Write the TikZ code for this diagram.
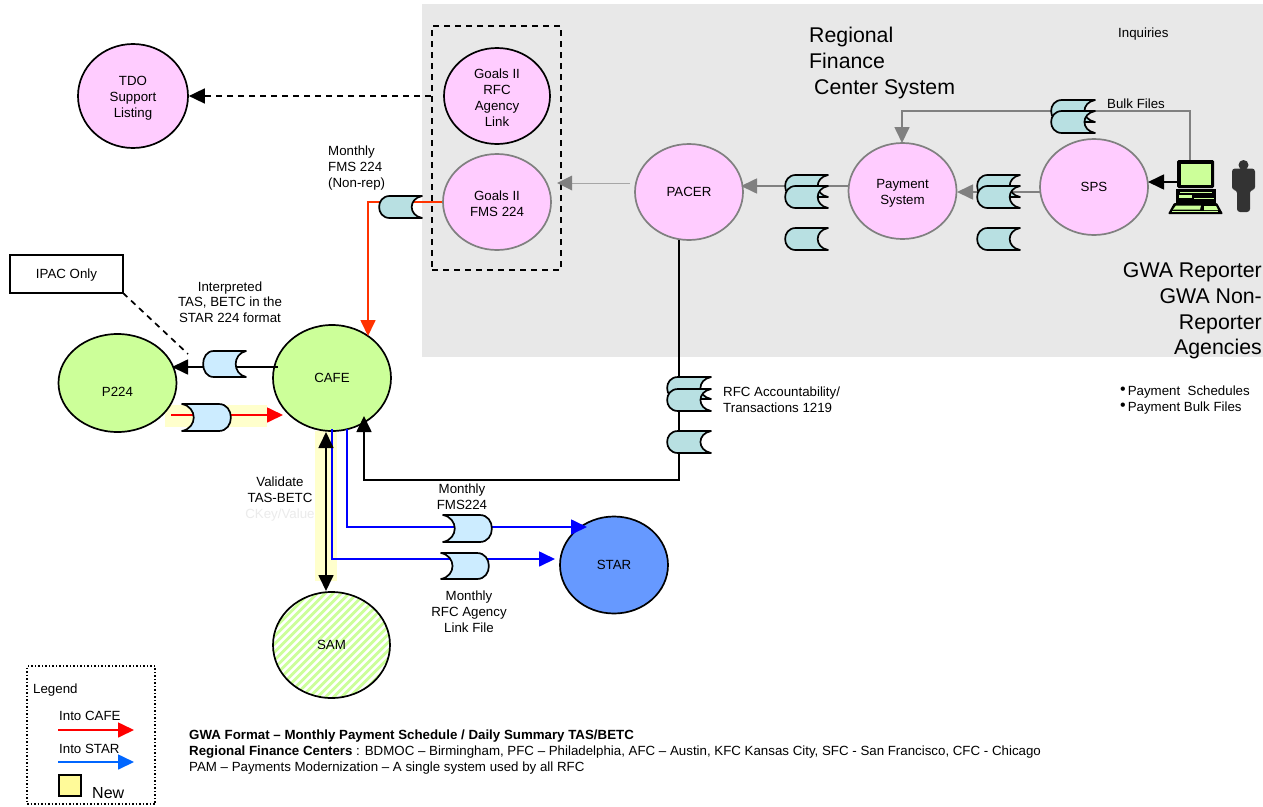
\documentclass[tikz,border=0pt]{standalone}
\usepackage{fontspec}
\setmainfont{Liberation Sans}
\usetikzlibrary{arrows.meta,shapes.geometric,calc}
\definecolor{pinkc}{HTML}{FFCCFF}
\definecolor{greenc}{HTML}{CCFF99}
\definecolor{tealc}{HTML}{B8E0E2}
\definecolor{bluec}{HTML}{CCECFF}
\definecolor{starc}{HTML}{6699FF}
\definecolor{yellowc}{HTML}{FFFFCC}
\definecolor{bgc}{HTML}{E8E8E8}
\definecolor{grayline}{HTML}{808080}
\definecolor{orangec}{HTML}{FF3300}
\definecolor{legblue}{HTML}{0066FF}
\newcommand{\fs}[1]{\fontsize{#1}{16}\selectfont}
\newcommand{\dn}{\rule{0pt}{13.6pt}}
\newcommand{\bult}{{\fontsize{16}{16}\selectfont\raisebox{1.5pt}{•}}\kern2pt}
\newcommand{\dstore}[5]{%
 \begin{scope}[shift={(#1,#2)},xscale=#3,yscale=#4]
  \path[draw=black,line width=1.7pt,fill=#5,line join=round]
   (1,0) -- (0.25,0) .. controls (-0.08,0) and (-0.08,1) .. (0.25,1) -- (1,1)
   .. controls (0.68,0.88) and (0.68,0.12) .. (1,0) -- cycle;
 \end{scope}}
\tikzset{
 proc/.style={shape=ellipse,inner sep=0pt,align=center,font=\fs{13.3}},
 procp/.style={proc,fill=pinkc,draw=grayline,line width=1.7pt,minimum width=108pt,minimum height=96pt},
 procb/.style={proc,draw=black,line width=1.7pt},
 lbl/.style={inner sep=0pt,font=\fs{13.3},align=center,text height=9.6pt,text depth=0pt},
 lbll/.style={inner sep=0pt,font=\fs{13.3},anchor=west,text height=9.6pt,text depth=0pt},
 big/.style={inner sep=0pt,font=\fs{21.3},anchor=west,text height=15.3pt,text depth=0pt},
 bigr/.style={inner sep=0pt,font=\fs{21.3},anchor=east,text height=15.3pt,text depth=0pt},
 tip/.style={-{Triangle[length=16pt,width=15pt]}},
 tips/.style={{Triangle[length=16pt,width=15pt]}-{Triangle[length=16pt,width=15pt]}},
 blk/.style={draw=black,line width=1.7pt},
 gry/.style={draw=grayline,line width=1.7pt},
 blu/.style={draw=blue,line width=1.7pt},
}
\begin{document}
\begin{tikzpicture}[x=1pt,y=-1pt]
\useasboundingbox (0,0) rectangle (1263,806);
\fill[white] (0,0) rectangle (1263,806);
\fill[bgc] (422,4) rectangle (1263,357);
% highlights
\fill[yellowc] (165,405) rectangle (267,427);
\fill[yellowc] (315,431) rectangle (337,581);
% nodes
\node[procb,fill=pinkc,minimum width=110pt,minimum height=104pt] (tdo) at (133,96) {\dn TDO\\Support\\Listing};
\node[procb,fill=pinkc,minimum width=106pt,minimum height=96pt] (goalsrfc) at (497,96) {\dn Goals II\\RFC\\Agency\\Link};
\node[procp] (goalsfms) at (497,202) {\dn Goals II\\FMS 224};
\node[procp] (pacer) at (689,192) {PACER};
\node[procp] (payment) at (902.5,191) {\dn Payment\\System};
\node[procp] (sps) at (1094,187) {SPS};
\node[procb,fill=greenc,minimum width=118pt,minimum height=106pt] (cafe) at (332,378) {CAFE};
\node[procb,fill=greenc,minimum width=118pt,minimum height=98pt] (p224) at (117.5,383) {\raisebox{-13pt}[0pt][0pt]{P224}};
\node[procb,fill=starc,minimum width=108pt,minimum height=97pt] (star) at (614,565) {STAR};
\node[procb,fill=white,minimum width=117pt,minimum height=106pt,
 path picture={\foreach \k in {-128,-120,...,128}{\draw[greenc,line width=2.8pt] (\k-70,70) -- (\k+70,-70);}}] (sam) at (331.5,645) {SAM};
\node[draw=black,line width=1.7pt,fill=white,minimum width=113pt,minimum height=38pt,inner sep=0pt,font=\fs{13.3},text height=9.6pt,text depth=0pt] (ipac) at (66.5,274) {IPAC Only};
% dashed box
\node[draw=black,line width=1.7pt,dash pattern=on 6pt off 5pt,minimum width=129pt,minimum height=244pt,inner sep=0pt] (gbox) at (496.5,148) {};
% coordinates
\coordinate (tdoin) at (tdo.east);
\coordinate (boxw) at (gbox.west |- tdo.east);
\coordinate (pacl) at (630,183);
\coordinate (goalsgt) at (557,183);
\coordinate (orangebend) at (368,202);
\coordinate (orangetip) at (368,336);
\coordinate (paypa) at (849,186);
\coordinate (pacpa) at (741,186);
\coordinate (spspa) at (1041,192);
\coordinate (paysp) at (957,192);
\coordinate (comp) at (1178,182);
\coordinate (spsc) at (1148,182);
\coordinate (bulk1) at (1190,172);
\coordinate (bulk2) at (1190,111);
\coordinate (bulk3) at (902,111);
\coordinate (bulk4) at (902,143);
\coordinate (pacb) at (679,240);
\coordinate (pac1) at (679,480);
\coordinate (pac2) at (364,480);
\coordinate (pac3) at (364,416);
\coordinate (b1a) at (347,429);
\coordinate (b1b) at (347,527);
\coordinate (b1c) at (587,527);
\coordinate (b2a) at (332,429);
\coordinate (b2b) at (332,559);
\coordinate (b2c) at (555,559);
\coordinate (da) at (326,432);
\coordinate (db) at (326,591);
\coordinate (cp1) at (278,367);
\coordinate (cp2) at (172,367);
\coordinate (pc1) at (171,415);
\coordinate (pc2) at (283,415);
\coordinate (ipb) at (123,293);
\coordinate (ipe) at (188,354);
% connectors
\draw[blk,dash pattern=on 6pt off 5pt,tip] (boxw) -- (tdoin);
\draw[draw=gray!70,line width=1pt] (pacl) -- (570,183);
\fill[grayline] (goalsgt) -- (572,175.5) -- (572,190.5) -- cycle;
\draw[draw=orangec,line width=1.7pt,tip] (goalsfms.west) -- (orangebend) -- (orangetip);
\draw[gry,tip] (paypa) -- (pacpa);
\draw[gry,tip] (spspa) -- (paysp);
\draw[blk,tip] (comp) -- (spsc);
\draw[gry,tip] (bulk1) -- (bulk2) -- (bulk3) -- (bulk4);
\draw[blk,tip] (pacb) -- (pac1) -- (pac2) -- (pac3);
\draw[blu,tip] (b1a) -- (b1b) -- (b1c);
\draw[blu,tip] (b2a) -- (b2b) -- (b2c);
\draw[blk,tips] (da) -- (db);
\draw[blk,tip] (cp1) -- (cp2);
\draw[draw=red,line width=1.7pt,tip] (pc1) -- (pc2);
\draw[blk,dash pattern=on 6pt off 5pt] (ipb) -- (ipe);
% stores
\dstore{785}{175}{43}{22}{tealc}
\dstore{785}{186}{43}{22}{tealc}
\dstore{785}{228}{43}{22}{tealc}
\dstore{977}{175}{43}{22}{tealc}
\dstore{977}{186}{43}{22}{tealc}
\dstore{977}{228}{43}{22}{tealc}
\dstore{1051}{100}{44}{22}{tealc}
\dstore{1051}{111}{44}{22}{tealc}
\dstore{667}{377}{44}{22}{tealc}
\dstore{667}{389}{44}{22}{tealc}
\dstore{667}{431}{44}{22}{tealc}
\dstore{379}{196}{43}{22}{tealc}
\dstore{203}{351}{43}{26}{bluec}
\dstore{231}{404}{-49}{27}{bluec}
\dstore{492}{515}{-49}{27}{bluec}
\dstore{489}{553}{-48}{26}{bluec}
% computer
\fill[black,rounded corners=1.5pt] (1177,160) rectangle (1214,188);
\fill[greenc] (1180.5,163.5) rectangle (1211,184.5);
\fill[black] (1176,189) rectangle (1216,206);
\fill[greenc] (1179,195) rectangle (1192,198);
\fill[greenc] (1194,197.5) rectangle (1214,199);
\fill[greenc] (1180,191.5) rectangle (1212,192.5);
\fill[black,rounded corners=1pt] (1174,203) -- (1217,203) -- (1223,214) -- (1168,214) -- cycle;
\fill[greenc] (1176,205.5) -- (1201,205.5) -- (1200,209.5) -- (1173,209.5) -- cycle;
\fill[greenc] (1204,206) -- (1216,206) -- (1218,210) -- (1204,210) -- cycle;
\fill[greenc] (1172,211) rectangle (1218,212);
% person
\fill[black!80] (1243.5,165) circle (5);
\fill[black!80,rounded corners=3pt] (1232,168.5) -- (1255,168.5) -- (1255,190) -- (1250,190) -- (1250,212) -- (1237,212) -- (1237,190) -- (1232,190) -- cycle;
% texts
\node[big] (t1) at (809,35) {Regional};
\node[big] (t2) at (809,61) {Finance};
\node[big] (t3) at (814,87) {Center System};
\node[lbll] (t4) at (1118,33) {Inquiries};
\node[lbll] (t5) at (1107,104) {Bulk Files};
\node[bigr] (t6) at (1262,270) {GWA Reporter};
\node[bigr] (t7) at (1262,296) {GWA Non-};
\node[bigr] (t8) at (1262,322) {Reporter};
\node[bigr] (t9) at (1262,347) {Agencies};
\node[lbll] (t10) at (1120,391) {\bult Payment\ \ Schedules};
\node[lbll] (t11) at (1120,407) {\bult Payment Bulk Files};
\node[lbll] (t12) at (723,392) {RFC Accountability/};
\node[lbll] (t13) at (723,408) {Transactions 1219};
\node[lbll] (t14) at (328,151) {Monthly};
\node[lbll] (t15) at (328,167) {FMS 224};
\node[lbll] (t16) at (328,183) {(Non-rep)};
\node[lbl] (t17) at (230,287) {Interpreted};
\node[lbl] (t18) at (230,302) {TAS, BETC in the};
\node[lbl] (t19) at (230,318) {STAR 224 format};
\node[lbl] (t20) at (280,482) {Validate};
\node[lbl] (t21) at (280,498) {TAS-BETC};
\node[lbl,text=black!8] (t22) at (280,514) {CKey/Value};
\node[lbl] (t23) at (462,489) {Monthly};
\node[lbl] (t24) at (462,505) {FMS224};
\node[lbl] (t25) at (469,596) {Monthly};
\node[lbl] (t26) at (469,612) {RFC Agency};
\node[lbl] (t27) at (469,628) {Link File};
\node[lbll,font=\fs{13.3}\bfseries] (t28) at (189,735) {GWA Format – Monthly Payment Schedule / Daily Summary TAS/BETC};
\node[lbll] (t29) at (189,751) {\textbf{Regional Finance Centers} : BDMOC – Birmingham, PFC – Philadelphia, AFC – Austin, KFC Kansas City, SFC - San Francisco, CFC - Chicago};
\node[lbll] (t30) at (189,767) {PAM – Payments Modernization – A single system used by all RFC};
% legend
\node[draw=black,line width=1.5pt,dotted,minimum width=128pt,minimum height=138pt,inner sep=0pt] (legend) at (91,735) {};
\node[lbll] (l1) at (33,689) {Legend};
\node[lbll] (l2) at (59,716) {Into CAFE};
\node[lbll] (l3) at (59,749) {Into STAR};
\coordinate (la1) at (58,730); \coordinate (la2) at (134,730);
\coordinate (lb1) at (58,762); \coordinate (lb2) at (134,762);
\draw[draw=red,line width=1.7pt,tip] (la1) -- (la2);
\draw[draw=legblue,line width=1.7pt,tip] (lb1) -- (lb2);
\node[draw=black,line width=1.7pt,fill=yellow!40!white,minimum width=22pt,minimum height=21pt,inner sep=0pt] (ly) at (70,785.5) {};
\node[lbll,font=\fs{16}] (l4) at (92,794) {New};
\end{tikzpicture}
\end{document}
